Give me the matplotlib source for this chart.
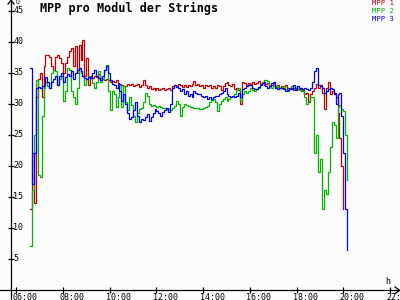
import numpy as np
import matplotlib
matplotlib.use("Agg")
import matplotlib.pyplot as plt
from matplotlib.lines import Line2D

# ---- data ----
START_HOUR = 6 + 35 / 60.0   # first sample 06:35
STEP_MIN = 5                  # sample interval in minutes

mpp1 = [13, 22, 14, 31, 34, 35, 31, 36, 37.8, 37.8,
        37.5, 36, 35.5, 37.5, 37.8, 37.3, 36.5, 35, 36.5, 37.5,
        38.5, 39, 36, 39.3, 35, 39.5, 37, 40.3, 34.5, 37.3,
        33, 34.5, 34.2, 34.5, 34.3, 34.8, 34.2, 34, 33.8, 34,
        33.8, 33.5, 33.7, 33.5, 33.8, 33.3, 33.2, 33, 32.9, 32.8,
        33.2, 33, 33.2, 32.8, 33, 33.2, 32.7, 33, 33.8, 33,
        32.6, 32.8, 32.3, 32.5, 32.2, 32.5, 32.2, 32.4, 32.5, 32.2,
        32.3, 32.6, 32.2, 32.8, 33, 32.8, 33.2, 33, 32.7, 33,
        32.7, 33, 32.8, 33.2, 33.6, 33, 33.2, 32.8, 33, 32.6,
        33, 32.8, 33, 32.6, 32.8, 32.5, 33, 32.8, 32.2, 32.8,
        33.3, 33.5, 33, 32.8, 33.2, 32.3, 32.6, 32.2, 30, 33.5,
        33.3, 33, 33.4, 33.2, 33.5, 33.2, 33.4, 33.6, 33.2, 33.4,
        33, 33.2, 33.3, 32.8, 33, 33.3, 32.7, 33, 32.6, 32.8,
        32.5, 33, 32.6, 32.3, 32.6, 32.2, 32.5, 32.3, 32.4, 32,
        32.2, 31.5, 31.8, 30.2, 31.5, 32, 32.5, 33.2, 32.5, 33,
        31.8, 29.2, 32.5, 33.5, 31.5, 32, 31.8, 31, 28.5, 24.5,
        20, 13]

mpp2 = [7, 16, 25, 33.8, 18.5, 18.2, 28, 32.5, 33.5, 32.8,
        32.5, 35, 35.5, 35.3, 33, 34, 34.5, 30.5, 32, 35.7,
        35.5, 32, 31, 30, 32.5, 35.8, 35, 34.5, 33, 34,
        34.5, 34.3, 33.3, 32.5, 33.5, 35.2, 33.5, 34, 35.5, 36.2,
        32, 29, 32, 31.5, 29.5, 31, 33, 29.5, 32.8, 30.3,
        29, 31, 29.8, 28, 27, 28.5, 29.2, 29.3, 30.3, 31.8,
        31.2, 30, 29.7, 29.8, 29.7, 29.5, 29.6, 29.5, 29.3, 29.3,
        29.2, 29.2, 29, 29.3, 29.6, 30.5, 30, 28, 29.5, 30,
        29.8, 29.7, 29.5, 29.4, 29.3, 29.3, 29.3, 29.2, 29.2, 29.3,
        29.4, 29.6, 30.3, 30.6, 30.8, 30.2, 28.8, 30, 30.5, 30.8,
        31, 30.5, 30.8, 31, 31.3, 31.5, 32.2, 32.5, 30.5, 31.5,
        32, 31.8, 32, 32.5, 32.2, 32, 32.3, 32.5, 33, 33.5,
        33.8, 33.8, 33.7, 32.8, 32.5, 33, 32.8, 32.7, 32.5, 32.6,
        32.8, 32.3, 32, 32.5, 32.8, 32.5, 32.4, 32.3, 32.2, 32.3,
        32, 31, 30, 30.5, 31, 31, 22, 25, 19, 21,
        13, 16, 15.5, 19, 23, 27, 26.5, 24.5, 29.5, 29.8,
        29.2, 28.8, 25, 17.7]

mpp3 = [35.7, 17, 22, 32.5, 32.7, 32.6, 32.8, 33, 34.3, 33.5,
        32.5, 33.5, 34, 34.5, 33, 34.5, 35, 33.5, 34.3, 34.8,
        34.5, 35.3, 34, 35, 35.5, 35.7, 35.3, 34.5, 34.2, 34,
        34.3, 34.2, 35, 35.5, 34.5, 34.2, 33.8, 34.5, 35.5, 36,
        35, 33.8, 33.2, 33, 32.5, 33.3, 32, 30.5, 31.5, 30,
        28.5, 27.6, 27.8, 29, 30.2, 28, 27, 27.5, 27.3, 27.8,
        28.3, 27.2, 27.8, 28.5, 29.2, 28.8, 28.5, 28, 28.6, 29,
        29.3, 28.7, 30, 32.5, 33, 32.7, 32.5, 32, 32.3, 31.5,
        32, 31.3, 31.6, 31, 32, 31.8, 31.6, 31.5, 31.3, 31,
        31.2, 30.8, 31, 30.8, 31, 31.3, 31.2, 31.5, 31.8, 32,
        32.5, 31.6, 31.2, 31, 31.3, 31, 31.2, 31.8, 31, 32.3,
        32.6, 32.8, 33, 33, 32.5, 32.4, 32.3, 32.7, 33, 33.3,
        33.5, 32.8, 32.5, 32.8, 33.3, 33.5, 32.5, 32.3, 32.5, 32.6,
        32.4, 32, 32.2, 32.6, 32.4, 33, 32.2, 32.8, 32.5, 32.5,
        32.4, 32.5, 32.3, 32.2, 32.5, 33.5, 35.2, 35.7, 33, 32.8,
        32.5, 31.8, 32, 32.3, 32.5, 32.3, 31.5, 30, 31.5, 31.8,
        28, 22, 13, 6.4]

series_names = ["MPP 1", "MPP 2", "MPP 3"]
series_colors = ["#c00000", "#00b400", "#0000ff"]
y_ticks = [5, 10, 15, 20, 25, 30, 35, 40, 45]
x_ticks = [6, 8, 10, 12, 14, 16, 18, 20, 22]
x_tick_labels = ["06:00", "08:00", "10:00", "12:00", "14:00",
                 "16:00", "18:00", "20:00", "22:00"]
title = "MPP pro Modul der Strings"

# ---- layout (pixel geometry of the 400x300 picture) ----
W, H = 400, 300
PX_PER_H = 23.36
X06 = 16.3            # pixel x of 06:00
Y0 = 289.7            # pixel y of value 0
PX_PER_U = 6.2
AXIS_X = 11.0         # pixel x of the y axis

def px_to_t(px):
    return 6 + (px - X06) / PX_PER_H

def py_to_v(py):
    return (Y0 - py) / PX_PER_U

BG = "#fcfcfc"
MONO = "DejaVu Sans Mono"

fig = plt.figure(figsize=(4, 3), dpi=100, facecolor=BG)
ax = fig.add_axes([0, 0, 1, 1], facecolor=BG)
ax.set_xlim(px_to_t(0), px_to_t(W))
ax.set_ylim(py_to_v(H), py_to_v(0))

t_axis = px_to_t(AXIS_X)

for vals, col in zip([mpp1, mpp2, mpp3], series_colors):
    t = START_HOUR + np.arange(len(vals)) * STEP_MIN / 60.0
    ax.plot(t, vals, color=col, lw=0.9, drawstyle="steps-post",
            solid_joinstyle="miter", zorder=3)

# axes as a cross through the origin
for s in ["top", "right"]:
    ax.spines[s].set_visible(False)
ax.spines["left"].set_position(("data", t_axis))
ax.spines["bottom"].set_position(("data", 0))
for s in ["left", "bottom"]:
    ax.spines[s].set_linewidth(0.9)
    ax.spines[s].set_color("black")

ax.set_yticks(y_ticks)
ax.set_xticks(x_ticks)
ax.tick_params(axis="both", direction="inout", length=5, width=0.9,
               labelleft=False, labelbottom=False, colors="black")

for v in y_ticks:
    ax.text(t_axis + 2.3 / PX_PER_H, v, str(v), fontsize=6, family=MONO,
            ha="left", va="center", color="black")
for tk, lab in zip(x_ticks, x_tick_labels):
    ax.text(tk - 3.5 / PX_PER_H, py_to_v(292.5), lab, fontsize=6,
            family=MONO, ha="left", va="top", color="black")

# arrow heads
fig.add_artist(Line2D([(AXIS_X - 3) / W, AXIS_X / W, (AXIS_X + 3) / W],
                      [1 - 4 / H, 1 - 0.3 / H, 1 - 4 / H],
                      color="black", lw=0.9))
fig.add_artist(Line2D([395 / W, 399.7 / W, 395 / W],
                      [1 - 287 / H, 1 - 290.3 / H, 1 - 293.6 / H],
                      color="black", lw=0.9))
fig.text(15 / W, 1 - 0 / H, "U", fontsize=4.5, family=MONO, va="top",
         ha="left")
fig.text(385 / W, 1 - 277 / H, "h", fontsize=6, family=MONO, va="top",
         ha="left")

# title
fig.text(40 / W, 1 - 1.5 / H, title, fontsize=8.5, family=MONO,
         fontweight="bold", ha="left", va="top", color="black")

# legend
for k, (name, col) in enumerate(zip(series_names, series_colors)):
    fig.text(394 / W, 1 - (0.2 + 8 * k) / H, name, fontsize=5.2, family=MONO,
             ha="right", va="top", color=col)

fig.savefig("out.png", dpi=100, facecolor=BG)
